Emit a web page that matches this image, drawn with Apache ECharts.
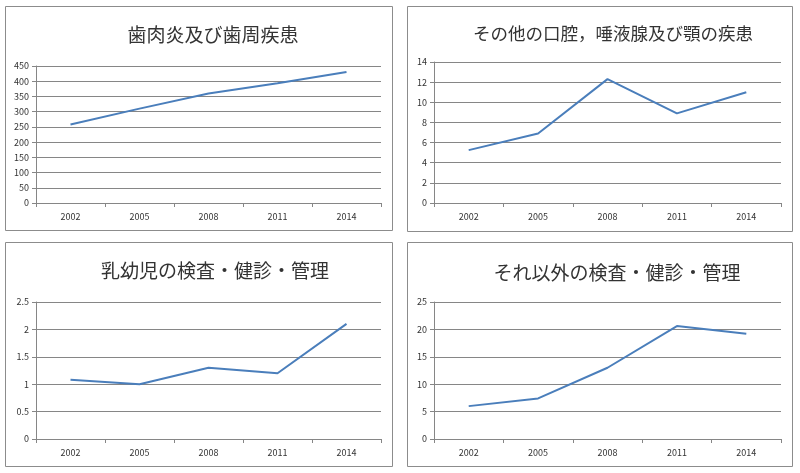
<!DOCTYPE html>
<html>
<head>
<meta charset="utf-8">
<script src="https://cdn.jsdelivr.net/npm/echarts@6/dist/echarts.min.js"></script>
<style>
html,body{margin:0;padding:0;background:#fff;}
#chart{width:800px;height:473px;}
</style>
</head>
<body>
<div id="chart"></div>
<script>
const years = ['2002', '2005', '2008', '2011', '2014'];
const titles = ['歯肉炎及び歯周疾患', 'その他の口腔，唾液腺及び顎の疾患', '乳幼児の検査・健診・管理', 'それ以外の検査・健診・管理'];
const gumDisease = [258, 310, 360, 393, 430];
const otherOral = [5.25, 6.9, 12.3, 8.9, 11.0];
const infantCheck = [1.08, 1.0, 1.3, 1.2, 2.1];
const otherCheck = [6.0, 7.4, 13.0, 20.6, 19.2];
const yMax = [450, 14, 2.5, 25];
const yInterval = [50, 2, 0.5, 5];
const seriesData = [gumDisease, otherOral, infantCheck, otherCheck];

const grids = [
  {left: 36, right: 419, top: 66, bottom: 270},
  {left: 434, right: 19, top: 62, bottom: 270},
  {left: 36, right: 419, top: 302, bottom: 34},
  {left: 434, right: 19, top: 302, bottom: 34}
];
const titlePos = [
  {left: 208, top: 20, size: 19},
  {left: 608, top: 20, size: 17.5},
  {left: 210, top: 256, size: 19},
  {left: 612, top: 258, size: 19}
];
const panels = [
  {x: 5, y: 6, w: 387, h: 224},
  {x: 407, y: 6, w: 385, h: 225},
  {x: 5, y: 242, w: 387, h: 224},
  {x: 407, y: 242, w: 385, h: 224}
];
const gridColor = '#868686';
const font = '"Noto Sans CJK JP", "Noto Sans", sans-serif';

const chart = echarts.init(document.getElementById('chart'));
chart.setOption({
  backgroundColor: '#fff',
  animation: false,
  graphic: panels.map(p => ({
    type: 'rect', silent: true, z: -10,
    shape: {x: p.x + 0.5, y: p.y + 0.5, width: p.w, height: p.h},
    style: {fill: '#fff', stroke: '#8c8c8c', lineWidth: 1}
  })),
  title: titles.map((t, i) => ({
    text: t, left: titlePos[i].left, top: titlePos[i].top,
    textStyle: {fontFamily: font, fontSize: titlePos[i].size, fontWeight: 'normal', color: '#333'},
    textAlign: 'center'
  })),
  grid: grids,
  xAxis: grids.map((g, i) => ({
    type: 'category', gridIndex: i, data: years, boundaryGap: true,
    axisLine: {lineStyle: {color: gridColor}},
    axisTick: {show: true, length: 4, lineStyle: {color: gridColor}},
    axisLabel: {fontFamily: font, fontSize: 9, color: '#333', margin: 9}
  })),
  yAxis: grids.map((g, i) => ({
    type: 'value', gridIndex: i, min: 0, max: yMax[i], interval: yInterval[i],
    axisLine: {show: true, lineStyle: {color: gridColor}},
    axisTick: {show: true, length: 4, lineStyle: {color: gridColor}},
    splitLine: {show: true, lineStyle: {color: gridColor, width: 1}},
    axisLabel: {fontFamily: font, fontSize: 9, color: '#333', margin: 7}
  })),
  series: seriesData.map((d, i) => ({
    type: 'line', xAxisIndex: i, yAxisIndex: i, data: d,
    showSymbol: false, symbol: 'none',
    lineStyle: {color: '#4a7ebb', width: 2},
    itemStyle: {color: '#4a7ebb'}
  }))
});
</script>
</body>
</html>
